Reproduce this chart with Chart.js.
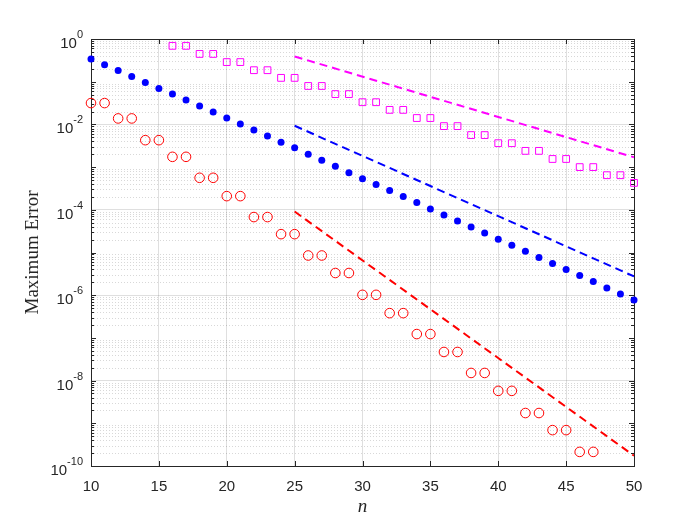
<!DOCTYPE html>
<html>
<head>
<meta charset="utf-8">
<script src="https://cdn.jsdelivr.net/npm/chart.js@4/dist/chart.umd.min.js"></script>
<style>
  html, body { margin: 0; padding: 0; background: #fff; }
  #wrap { width: 700px; height: 525px; position: relative; }
</style>
</head>
<body>
<div id="wrap"><canvas id="chart"></canvas></div>
<script>
// values
const nBlue = [10, 11, 12, 13, 14, 15, 16, 17, 18, 19, 20, 21, 22, 23, 24, 25, 26, 27, 28, 29,
               30, 31, 32, 33, 34, 35, 36, 37, 38, 39, 40, 41, 42, 43, 44, 45, 46, 47, 48, 49, 50];
const errBlue = [0.339, 0.251, 0.182, 0.132, 0.0955, 0.0692, 0.0513, 0.0372, 0.0269, 0.0195,
                 0.0141, 0.0102, 7.41e-3, 5.37e-3, 3.80e-3, 2.82e-3, 2.00e-3, 1.45e-3, 1.05e-3, 7.41e-4,
                 5.37e-4, 3.89e-4, 2.82e-4, 2.04e-4, 1.48e-4, 1.05e-4, 7.59e-5, 5.50e-5, 3.98e-5, 2.88e-5,
                 2.04e-5, 1.48e-5, 1.07e-5, 7.59e-6, 5.50e-6, 3.98e-6, 2.88e-6, 2.09e-6, 1.48e-6, 1.07e-6,
                 7.76e-7];

const nRed = [10, 11, 12, 13, 14, 15, 16, 17, 18, 19, 20, 21, 22, 23, 24, 25, 26, 27, 28,
              29, 30, 31, 32, 33, 34, 35, 36, 37, 38, 39, 40, 41, 42, 43, 44, 45, 46, 47];
const errRed = [3.16e-2, 3.16e-2, 1.38e-2, 1.38e-2, 4.27e-3, 4.27e-3, 1.74e-3, 1.74e-3,
                5.62e-4, 5.62e-4, 2.09e-4, 2.09e-4, 6.76e-5, 6.76e-5, 2.69e-5, 2.69e-5,
                8.51e-6, 8.51e-6, 3.31e-6, 3.31e-6, 1.02e-6, 1.02e-6, 3.80e-7, 3.80e-7,
                1.23e-7, 1.23e-7, 4.68e-8, 4.68e-8, 1.51e-8, 1.51e-8, 5.75e-9, 5.75e-9,
                1.74e-9, 1.74e-9, 6.92e-10, 6.92e-10, 2.14e-10, 2.14e-10];

const nMag = [16, 17, 18, 19, 20, 21, 22, 23, 24, 25, 26, 27, 28, 29, 30, 31, 32, 33,
              34, 35, 36, 37, 38, 39, 40, 41, 42, 43, 44, 45, 46, 47, 48, 49, 50];
const errMag = [0.692, 0.692, 0.447, 0.447, 0.288, 0.288, 0.186, 0.186, 0.123, 0.123,
                7.94e-2, 7.94e-2, 5.13e-2, 5.13e-2, 3.31e-2, 3.31e-2, 2.19e-2, 2.19e-2,
                1.41e-2, 1.41e-2, 9.12e-3, 9.12e-3, 5.62e-3, 5.62e-3, 3.63e-3, 3.63e-3,
                2.40e-3, 2.40e-3, 1.55e-3, 1.55e-3, 1.00e-3, 1.00e-3, 6.46e-4, 6.46e-4, 4.27e-4];

// reference slopes (dashed)
const nRef = [25, 50];
const refMag = [0.39, 1.70e-3];
const refBlue = [9.3e-3, 2.75e-6];
const refRed = [9.1e-5, 1.74e-10];

const xTicks = [10, 15, 20, 25, 30, 35, 40, 45, 50];
const yExponents = [0, -2, -4, -6, -8, -10];

const axisColor = '#262626';
const tickFont = '15px "Liberation Sans", Arial, sans-serif';

function pts(xs, ys) {
    return xs.map((x, i) => ({ x: x, y: ys[i] }));
}

// minor grid, box, inward ticks, y labels with superscripts, axis titles
const matlabAxes = {
    id: 'matlabAxes',
    beforeDatasetsDraw(chart) {
        const { ctx, chartArea: a, scales: { x, y } } = chart;
        ctx.save();
        // minor dotted grid on y
        ctx.strokeStyle = 'rgba(38,38,38,0.18)';
        ctx.lineWidth = 1;
        ctx.setLineDash([1, 2]);
        for (let k = -10; k < 0; k++) {
            for (let m = 2; m <= 9; m++) {
                const py = Math.round(y.getPixelForValue(m * Math.pow(10, k))) + 0.5;
                ctx.beginPath();
                ctx.moveTo(a.left, py);
                ctx.lineTo(a.right, py);
                ctx.stroke();
            }
        }
        ctx.setLineDash([]);
        ctx.strokeStyle = axisColor;
        ctx.lineWidth = 1;
        // inward ticks
        ctx.beginPath();
        xTicks.forEach(v => {
            const px = Math.round(x.getPixelForValue(v)) + 0.5;
            ctx.moveTo(px, a.bottom); ctx.lineTo(px, a.bottom - 5);
            ctx.moveTo(px, a.top); ctx.lineTo(px, a.top + 5);
        });
        for (let k = -10; k <= 0; k++) {
            for (let m = 1; m <= 9; m++) {
                if (k === 0 && m > 1) break;
                const len = m === 1 ? 5 : 3;
                const py = Math.round(y.getPixelForValue(m * Math.pow(10, k))) + 0.5;
                ctx.moveTo(a.left, py); ctx.lineTo(a.left + len, py);
                ctx.moveTo(a.right, py); ctx.lineTo(a.right - len, py);
            }
        }
        ctx.stroke();
        // box
        ctx.strokeRect(Math.round(a.left) + 0.5, Math.round(a.top) + 0.5,
            Math.round(a.right - a.left), Math.round(a.bottom - a.top));
        ctx.restore();
    },
    afterDraw(chart) {
        const { ctx, chartArea: a, scales: { y } } = chart;
        ctx.save();
        ctx.fillStyle = axisColor;
        // y tick labels 10^k
        yExponents.forEach(k => {
            const py = y.getPixelForValue(Math.pow(10, k));
            const sup = String(k).replace('-', '-');
            ctx.font = '11px "Liberation Sans", Arial, sans-serif';
            const wSup = ctx.measureText(sup).width;
            ctx.textAlign = 'left';
            ctx.textBaseline = 'alphabetic';
            const right = a.left - 8;
            ctx.fillText(sup, right - wSup, py - 1);
            ctx.font = tickFont;
            const wBase = ctx.measureText('10').width;
            ctx.fillText('10', right - wSup - wBase, py + 9);
        });
        // y title
        ctx.font = '19px "Liberation Serif", "Times New Roman", serif';
        ctx.textAlign = 'center';
        ctx.textBaseline = 'middle';
        ctx.translate(33, (a.top + a.bottom) / 2);
        ctx.rotate(-Math.PI / 2);
        ctx.fillText('Maximum Error', 0, 0);
        ctx.restore();
        // x title
        ctx.save();
        ctx.fillStyle = axisColor;
        ctx.font = 'italic 19px "Liberation Serif", "Times New Roman", serif';
        ctx.textAlign = 'center';
        ctx.textBaseline = 'middle';
        ctx.fillText('n', (a.left + a.right) / 2, 507);
        ctx.restore();
    }
};

new Chart(document.getElementById('chart'), {
    type: 'scatter',
    data: {
        datasets: [
            {
                label: 'ref magenta', type: 'line', data: pts(nRef, refMag),
                borderColor: '#ff00ff', borderWidth: 2, borderDash: [8, 5],
                pointRadius: 0, fill: false, showLine: true
            },
            {
                label: 'ref blue', type: 'line', data: pts(nRef, refBlue),
                borderColor: '#0000ff', borderWidth: 2, borderDash: [8, 5],
                pointRadius: 0, fill: false, showLine: true
            },
            {
                label: 'ref red', type: 'line', data: pts(nRef, refRed),
                borderColor: '#ff0000', borderWidth: 2, borderDash: [8, 5],
                pointRadius: 0, fill: false, showLine: true
            },
            {
                label: 'blue', data: pts(nBlue, errBlue),
                pointStyle: 'circle', pointRadius: 3.5, pointBorderWidth: 0,
                backgroundColor: '#0000ff', borderColor: '#0000ff', clip: false
            },
            {
                label: 'red', data: pts(nRed, errRed),
                pointStyle: 'circle', pointRadius: 4.8, pointBorderWidth: 1,
                backgroundColor: 'rgba(0,0,0,0)', borderColor: '#ff0000', clip: false
            },
            {
                label: 'magenta', data: pts(nMag, errMag),
                pointStyle: 'rect', pointRadius: 4.8, pointBorderWidth: 1,
                backgroundColor: 'rgba(0,0,0,0)', borderColor: '#ff00ff', clip: false
            }
        ]
    },
    options: {
        responsive: true,
        maintainAspectRatio: false,
        animation: false,
        layout: { padding: { left: 0, top: 39, right: 66, bottom: 0 } },
        plugins: { legend: { display: false }, tooltip: { enabled: false } },
        elements: { point: { hoverRadius: 0 } },
        scales: {
            x: {
                type: 'linear', min: 10, max: 50,
                afterBuildTicks: s => { s.ticks = xTicks.map(v => ({ value: v })); },
                afterFit: s => { s.height = 59; },
                grid: { color: 'rgba(38,38,38,0.15)', drawTicks: false },
                border: { display: false },
                ticks: { font: { family: '"Liberation Sans", Arial, sans-serif', size: 15 }, color: axisColor, padding: 12, maxRotation: 0 }
            },
            y: {
                type: 'logarithmic', min: 1e-10, max: 1,
                afterBuildTicks: s => { s.ticks = yExponents.map(k => ({ value: Math.pow(10, k) })); },
                afterFit: s => { s.width = 91; },
                grid: { color: 'rgba(38,38,38,0.15)', drawTicks: false },
                border: { display: false },
                ticks: { display: false }
            }
        }
    },
    plugins: [matlabAxes]
});
</script>
</body>
</html>
